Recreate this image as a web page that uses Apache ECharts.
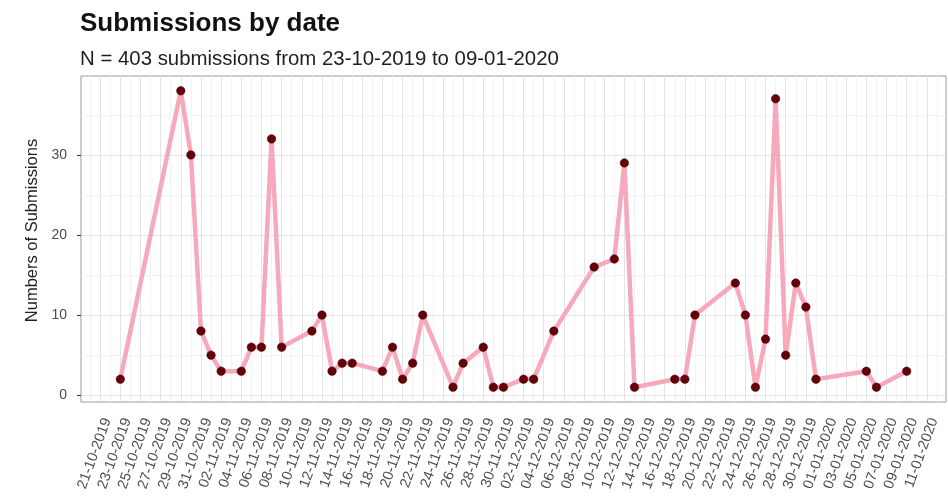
<!DOCTYPE html>
<html><head><meta charset="utf-8">
<script src="https://cdn.jsdelivr.net/npm/echarts@6/dist/echarts.min.js"></script>
<style>html,body{margin:0;padding:0;background:#fff}#c{width:948px;height:498px}</style>
</head><body><div id="c"></div>
<script>
const dates = ['23-10-2019','29-10-2019','30-10-2019','31-10-2019','01-11-2019','02-11-2019','04-11-2019','05-11-2019','06-11-2019','07-11-2019','08-11-2019','11-11-2019','12-11-2019','13-11-2019','14-11-2019','15-11-2019','18-11-2019','19-11-2019','20-11-2019','21-11-2019','22-11-2019','25-11-2019','26-11-2019','28-11-2019','29-11-2019','30-11-2019','02-12-2019','03-12-2019','05-12-2019','09-12-2019','11-12-2019','12-12-2019','13-12-2019','17-12-2019','18-12-2019','19-12-2019','23-12-2019','24-12-2019','25-12-2019','26-12-2019','27-12-2019','28-12-2019','29-12-2019','30-12-2019','31-12-2019','05-01-2020','06-01-2020','09-01-2020'];
const counts = [2,38,30,8,5,3,3,6,6,32,6,8,10,3,4,4,3,6,2,4,10,1,4,6,1,1,2,2,8,16,17,29,1,2,2,10,14,10,1,7,37,5,14,11,2,3,1,3];
const xTickLabels = ['21-10-2019','23-10-2019','25-10-2019','27-10-2019','29-10-2019','31-10-2019','02-11-2019','04-11-2019','06-11-2019','08-11-2019','10-11-2019','12-11-2019','14-11-2019','16-11-2019','18-11-2019','20-11-2019','22-11-2019','24-11-2019','26-11-2019','28-11-2019','30-11-2019','02-12-2019','04-12-2019','06-12-2019','08-12-2019','10-12-2019','12-12-2019','14-12-2019','16-12-2019','18-12-2019','20-12-2019','22-12-2019','24-12-2019','26-12-2019','28-12-2019','30-12-2019','01-01-2020','03-01-2020','05-01-2020','07-01-2020','09-01-2020','11-01-2020'];
const yTicks = [0,10,20,30];
const yMinorGrid = [5,15,25,35];

const DAY = 86400000;
function parse(s){const [d,m,y]=s.split('-').map(Number);return Date.UTC(y,m-1,d);}
const times = dates.map(parse);
const tickVals = xTickLabels.map(parse);
const total = counts.reduce((a,b)=>a+b,0);

const t0 = times[0], t1 = times[times.length-1];
const xMin = t0 - 0.05*(t1-t0), xMax = t1 + 0.05*(t1-t0);
const cMin = Math.min(...counts), cMax = Math.max(...counts);
const yMin = cMin - 0.05*(cMax-cMin), yMax = cMax + 0.05*(cMax-cMin);

const gridLines = [];
for (let t = tickVals[0]-DAY; t <= xMax; t += DAY) {
  if (t < xMin) continue;
  const major = tickVals.indexOf(t) >= 0;
  gridLines.push({xAxis: t, lineStyle:{color: major ? '#e4e4e4' : '#f2f2f2', width: 1, type:'solid'}});
}
yTicks.forEach(v=>gridLines.push({yAxis:v, lineStyle:{color:'#e4e4e4',width:1,type:'solid'}}));
yMinorGrid.forEach(v=>{ if(v<yMax) gridLines.push({yAxis:v, lineStyle:{color:'#f2f2f2',width:1,type:'solid'}}); });

const FONT = 'Liberation Sans';
const chart = echarts.init(document.getElementById('c'), null, {renderer:'canvas'});
chart.setOption({
  animation:false,
  backgroundColor:'#fff',
  textStyle:{fontFamily:FONT},
  title:[
    {text:'Submissions by date', left:80, top:11, padding:0, textStyle:{fontSize:26, fontWeight:'bold', color:'#111', fontFamily:FONT}},
    {text:'N = '+total+' submissions from '+dates[0]+' to '+dates[dates.length-1], left:80, top:49, padding:0, textStyle:{fontSize:20.4, fontWeight:'normal', color:'#1f1f1f', fontFamily:FONT}}
  ],
  grid:{left:81, top:76, right:2, bottom:96, show:true, borderColor:'#9a9a9a', borderWidth:1, backgroundColor:'#fff', containLabel:false},
  xAxis:{
    type:'value', min:xMin, max:xMax,
    axisLine:{show:false},
    splitLine:{show:false},
    axisTick:{show:true, customValues:tickVals, length:4, lineStyle:{color:'#333', width:1}},
    axisLabel:{customValues:tickVals, rotate:70, margin:14, fontSize:14.5, color:'#4d4d4d', fontFamily:FONT, verticalAlign:'top', hideOverlap:false,
      showMinLabel:true, showMaxLabel:true,
      formatter:function(v){const i=tickVals.indexOf(v);return i>=0?xTickLabels[i]:'';}}
  },
  yAxis:{
    type:'value', min:yMin, max:yMax,
    name:'Numbers of Submissions', nameLocation:'middle', nameRotate:90, nameGap:36,
    nameTextStyle:{fontSize:16.5, color:'#222', fontFamily:FONT, padding:[0,0,0,17]},
    axisLine:{show:false},
    splitLine:{show:false},
    axisTick:{show:true, customValues:yTicks, length:4, lineStyle:{color:'#333', width:1}},
    axisLabel:{customValues:yTicks, margin:14, fontSize:14, color:'#4d4d4d', fontFamily:FONT}
  },
  series:[
    {type:'line', data:[], z:1, silent:true,
      markLine:{z:1, silent:true, symbol:['none','none'], label:{show:false}, animation:false, data:gridLines}},
    {type:'line', z:3, data:times.map((t,i)=>[t,counts[i]]),
      lineStyle:{color:'#f6a9bb', width:4.5}, symbol:'circle', symbolSize:8.5,
      itemStyle:{color:'#650008', borderColor:'#3a0004', borderWidth:0.5}}
  ]
});
</script></body></html>
